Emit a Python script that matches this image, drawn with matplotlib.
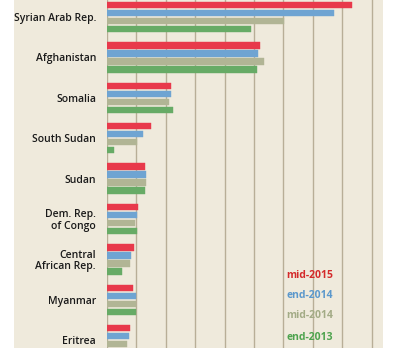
import numpy as np
import matplotlib
matplotlib.use('Agg')
from matplotlib import pyplot as plt

# Refugees by country of origin, millions
countries = ['Syrian Arab Rep.', 'Afghanistan', 'Somalia', 'South Sudan', 'Sudan',
             'Dem. Rep.\nof Congo', 'Central\nAfrican Rep.', 'Myanmar', 'Eritrea']
mid_2015 = [4.17, 2.60, 1.09, 0.75, 0.65, 0.53, 0.46, 0.44, 0.39]
end_2014 = [3.86, 2.57, 1.09, 0.61, 0.66, 0.51, 0.41, 0.49, 0.37]
mid_2014 = [3.01, 2.67, 1.05, 0.51, 0.66, 0.48, 0.39, 0.49, 0.34]
end_2013 = [2.45, 2.55, 1.12, 0.12, 0.65, 0.51, 0.25, 0.49, 0.33]

series = [
    ['mid-2015', mid_2015, '#e8394b', '#d42a2a'],
    ['end-2014', end_2014, '#6fa4d2', '#5b98cc'],
    ['mid-2014', mid_2014, '#b1b595', '#a3ab86'],
    ['end-2013', end_2013, '#67ab66', '#4ea34e'],
]

W, H = 398, 348
fig = plt.figure(figsize=(W / 100, H / 100), dpi=100)
fig.patch.set_facecolor('white')
beige = '#efeadc'

# beige panel behind labels and bars
bg = fig.add_axes([14 / W, 0, (383 - 14) / W, 1], zorder=0)
bg.axis('off')
bg.add_patch(plt.Rectangle((0, 0), 1, 1, transform=bg.transAxes, color=beige))

ax = fig.add_axes([107 / W, 0, (383 - 107) / W, 1], zorder=1)
ax.set_facecolor('none')
for s in ax.spines.values():
    s.set_visible(False)

y = np.arange(len(countries))
step = 8 / 40.4
height = 6.3 / 40.4
for k, (name, vals, col, txtcol) in enumerate(series):
    ax.barh(y + (k - 1.5) * step, vals, height=height, color=col,
            edgecolor=col, linewidth=0.3, zorder=3)

ax.set_xlim(0, (383 - 107) / 58.8)
ax.set_ylim((H - 17) / 40.4, -17 / 40.4)
ax.set_xticks(np.arange(0, 4.6, 0.5))
ax.set_axisbelow(True)
ax.xaxis.grid(True, color='#b8ae97', linewidth=1.0)
ax.tick_params(axis='x', length=0, labelbottom=False)
ax.set_yticks(y)
ax.set_yticklabels(countries, fontsize=7.5, fontfamily='Open Sans', fontweight='semibold',
                   color='#1a1a1a', linespacing=1.0)
ax.tick_params(axis='y', length=0, pad=8)

legend_y = [276, 296, 316, 337]
for (name, vals, col, txtcol), ly in zip(series, legend_y):
    fig.text(333 / W, 1 - ly / H, name, ha='right', va='center', fontsize=7.5,
             fontfamily='Open Sans', fontweight='bold', color=txtcol, zorder=5)

fig.savefig('out.png', dpi=100, facecolor='white')
